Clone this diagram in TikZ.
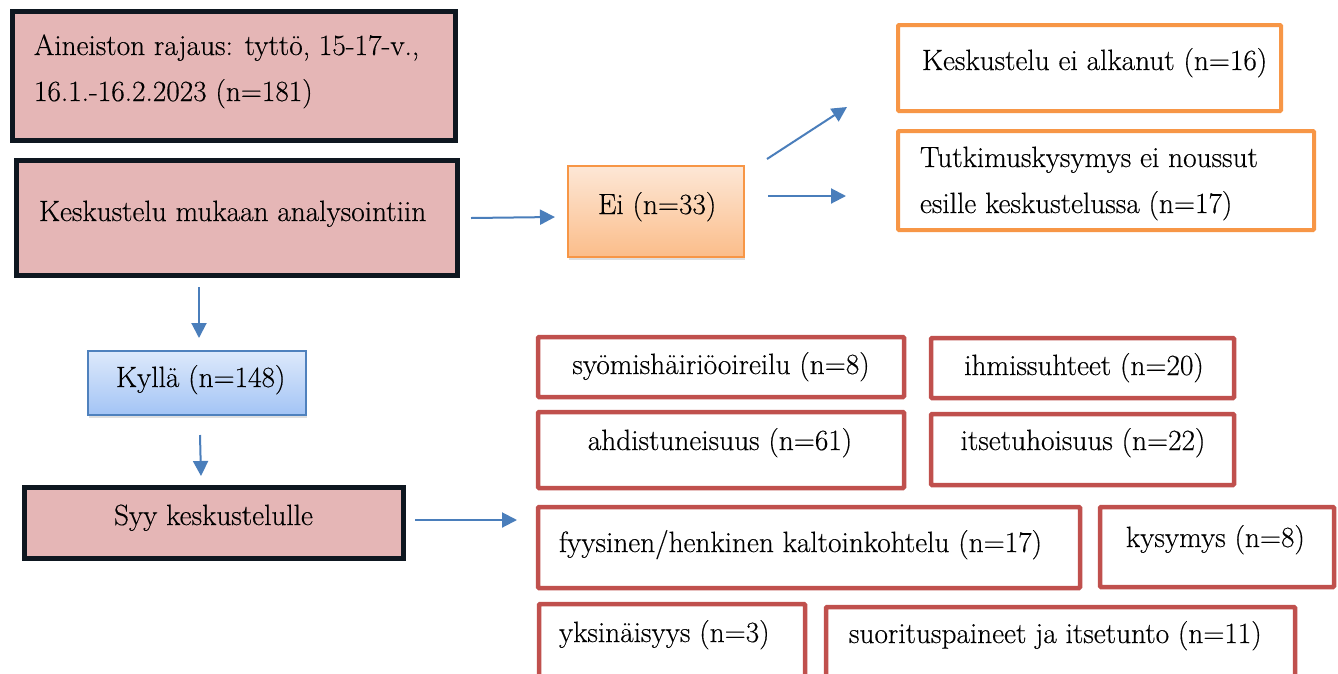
\documentclass[tikz,border=0pt]{standalone}
\usepackage{fontspec}
\setmainfont{Latin Modern Roman}[FakeBold=0.35]
\usetikzlibrary{arrows.meta,shadows}
\definecolor{pinkfill}{HTML}{E5B6B6}
\definecolor{darkline}{HTML}{0E1720}
\definecolor{orangeline}{HTML}{F79646}
\definecolor{redline}{HTML}{C0504D}
\definecolor{arrowblue}{HTML}{4A7EBB}
\definecolor{bluetop}{HTML}{DDE9FB}
\definecolor{bluebot}{HTML}{A3C4F5}
\definecolor{blueline}{HTML}{4F81BD}
\definecolor{peachtop}{HTML}{FDE7D6}
\definecolor{peachbot}{HTML}{FBBD8A}
\tikzset{
  boxbase/.style={rectangle, inner sep=0pt, outer sep=0pt},
  pinkbox/.style={boxbase, draw=darkline, fill=pinkfill, line width=5pt},
  orangebox/.style={boxbase, draw=orangeline, fill=white, line width=4pt, rounded corners=1pt},
  redbox/.style={boxbase, draw=redline, fill=white, line width=4.5pt, rounded corners=1pt},
  kyllabox/.style={boxbase, draw=blueline, line width=2pt, top color=bluetop, bottom color=bluebot,
     drop shadow={opacity=0.25, shadow xshift=1pt, shadow yshift=-3pt}},
  eibox/.style={boxbase, draw=orangeline, line width=2pt, top color=peachtop, bottom color=peachbot,
     drop shadow={opacity=0.25, shadow xshift=1pt, shadow yshift=-3pt}},
  txt/.style={inner sep=0pt, outer sep=0pt, anchor=base west, font=\fontsize{29.3}{46}\selectfont, align=left},
  ctxt/.style={inner sep=0pt, outer sep=0pt, anchor=base, font=\fontsize{29.3}{46}\selectfont},
  arr/.style={draw=arrowblue, line width=2pt, -{Triangle[length=15pt,width=15pt]}}
}
\begin{document}
\begin{tikzpicture}[x=1pt,y=-1pt]
\clip (0,0) rectangle (1338,673);
\fill[white] (0,0) rectangle (1338,673);

% left column
\node[pinkbox, minimum width=443pt, minimum height=129pt] (b1) at (234,76) {};
\node[txt] (t1) at (34,101) {Aineiston rajaus: tyttö, 15-17-v.,\\16.1.-16.2.2023 (n=181)};
\node[pinkbox, minimum width=441pt, minimum height=115pt] (b2) at (237,218) {};
\node[txt] (t2) at (39,221) {Keskustelu mukaan analysointiin};
\node[kyllabox, minimum width=218pt, minimum height=64pt] (ky) at (197,383) {};
\node[txt] (tky) at (116,387) {Kyllä (n=148)};
\node[pinkbox, minimum width=379pt, minimum height=71pt] (syy) at (214,523) {};
\node[txt] (tsyy) at (114,525) {Syy keskustelulle};

% Ei branch
\node[eibox, minimum width=176pt, minimum height=91pt] (ei) at (656,211.5) {};
\node[txt] (tei) at (598,214) {Ei (n=33)};
\node[orangebox, minimum width=383pt, minimum height=86pt] (o1) at (1089.5,68) {};
\node[txt] (to1) at (922,70) {Keskustelu ei alkanut (n=16)};
\node[orangebox, minimum width=416pt, minimum height=99pt] (o2) at (1106,180.5) {};
\node[txt] (to2) at (920,213) {Tutkimuskysymys ei noussut\\esille keskustelussa (n=17)};

% reasons
\node[redbox, minimum width=366pt, minimum height=60pt] (r1) at (721,367) {};
\node[ctxt] (tr1) at (721,374) {syömishäiriöoireilu (n=8)};
\node[redbox, minimum width=303pt, minimum height=60pt] (r2) at (1082.5,368) {};
\node[ctxt] (tr2) at (1084,375) {ihmissuhteet (n=20)};
\node[redbox, minimum width=366pt, minimum height=76pt] (r3) at (721,450) {};
\node[ctxt] (tr3) at (720,450) {ahdistuneisuus (n=61)};
\node[redbox, minimum width=303pt, minimum height=71pt] (r4) at (1082.5,449.5) {};
\node[ctxt] (tr4) at (1083,450) {itsetuhoisuus (n=22)};
\node[redbox, minimum width=542pt, minimum height=81pt] (r5) at (809,547.5) {};
\node[txt] (tr5) at (559,552) {fyysinen/henkinen kaltoinkohtelu (n=17)};
\node[redbox, minimum width=234pt, minimum height=80pt] (r6) at (1217,547) {};
\node[txt] (tr6) at (1126,547) {kysymys (n=8)};
\node[redbox, minimum width=266pt, minimum height=84pt] (r7) at (672,646) {};
\node[txt] (tr7) at (559,642) {yksinäisyys (n=3)};
\node[redbox, minimum width=469pt, minimum height=81pt] (r8) at (1060.5,647.5) {};
\node[txt] (tr8) at (849,643) {suorituspaineet ja itsetunto (n=11)};

% arrow end points
\coordinate (a1s) at (199,287); \coordinate (a1e) at (199,338);
\coordinate (a2s) at (200,435); \coordinate (a2e) at (201,476);
\coordinate (a3s) at (415,520); \coordinate (a3e) at (517,520);
\coordinate (a4s) at (471,218); \coordinate (a4e) at (555,217);
\coordinate (a5s) at (767,159); \coordinate (a5e) at (847,107);
\coordinate (a6s) at (768,196); \coordinate (a6e) at (846,196);
\draw[arr] (a1s) -- (a1e);
\draw[arr] (a2s) -- (a2e);
\draw[arr] (a3s) -- (a3e);
\draw[arr] (a4s) -- (a4e);
\draw[arr] (a5s) -- (a5e);
\draw[arr] (a6s) -- (a6e);
\end{tikzpicture}
\end{document}
